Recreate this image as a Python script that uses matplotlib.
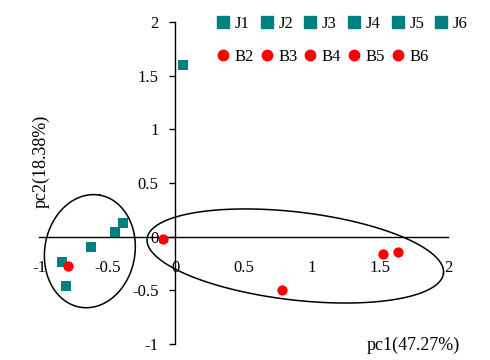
import numpy as np
import matplotlib
matplotlib.use("Agg")
import matplotlib.pyplot as plt
from matplotlib.lines import Line2D

plt.rcParams['font.family'] = ['Liberation Serif', 'DejaVu Serif']
plt.rcParams['font.size'] = 12

# PCA scores
j_labels = ["J1", "J2", "J3", "J4", "J5", "J6"]
j_pc1 = [0.055, -0.385, -0.44, -0.62, -0.83, -0.80]
j_pc2 = [1.60, 0.13, 0.04, -0.10, -0.24, -0.46]

b_labels = ["B2", "B3", "B4", "B5", "B6"]
b_pc1 = [-0.79, -0.09, 0.78, 1.52, 1.63]
b_pc2 = [-0.27, -0.02, -0.50, -0.16, -0.14]

x_ticks = [-1, -0.5, 0, 0.5, 1, 1.5, 2]
y_ticks = [-1, -0.5, 0, 0.5, 1, 1.5, 2]

# group ellipses: centre x, centre y, semi-major, semi-minor, angle (deg)
ellipses = [(-0.627, -0.135, 0.53, 0.42, 80),
            (0.88, -0.18, 1.39, 0.41, -6.7)]

teal = "#008080"
red = "#ff0000"

fig = plt.figure(figsize=(4.9, 3.6), dpi=100)
ax = fig.add_axes([39 / 490, 16 / 360, 409 / 490, 322 / 360])
ax.set_xlim(-1, 2)
ax.set_ylim(-1, 2)

ax.spines['left'].set_position(('data', 0))
ax.spines['bottom'].set_position(('data', 0))
ax.spines['top'].set_visible(False)
ax.spines['right'].set_visible(False)
for s in ['left', 'bottom']:
    ax.spines[s].set_linewidth(1.0)

ax.set_xticks(x_ticks)
ax.set_yticks(y_ticks)
ax.set_xticklabels(["-1", "-0.5", "0", "0.5", "1", "1.5", "2"])
ax.set_yticklabels(["-1", "-0.5", "0", "0.5", "1", "1.5", "2"])
ax.tick_params(axis='x', length=0, pad=17)
ax.tick_params(axis='y', direction='out', length=4, width=1, pad=8)

# x data unit drawn wider than y unit; keep ellipse shape in screen space
k = (409 / 3) / (322 / 3)
t = np.linspace(0, 2 * np.pi, 200)
for cx, cy, a, b, ang in ellipses:
    th = np.deg2rad(ang)
    u = a * np.cos(t)
    v = b * np.sin(t)
    ex = cx + (u * np.cos(th) - v * np.sin(th)) / k
    ey = cy + (u * np.sin(th) + v * np.cos(th))
    ax.plot(ex, ey, color='black', lw=1.1, zorder=1)

ax.scatter(j_pc1, j_pc2, marker='s', s=62, color=teal, zorder=3, linewidths=0)
ax.scatter(b_pc1, b_pc2, marker='o', s=55, color=red, zorder=4, linewidths=0)

handles = []
labels = []
for i in range(6):
    handles.append(Line2D([], [], marker='s', ls='', color=teal, markersize=8))
    labels.append(j_labels[i])
    if i < 5:
        handles.append(Line2D([], [], marker='o', ls='', color=red, markersize=7.5))
        labels.append(b_labels[i])
fig.legend(handles, labels, ncol=6, loc='upper left',
           bbox_to_anchor=(208 / 490, 1 - 8 / 360), frameon=False,
           handlelength=0.8, handletextpad=0.3, columnspacing=0.36,
           labelspacing=1.0, borderpad=0)

fig.text(413 / 490, 1 - 345 / 360, "pc1(47.27%)", ha='center', va='center',
         fontsize=13)
fig.text(41 / 490, 1 - 161 / 360, "pc2(18.38%)", ha='center', va='center',
         rotation=90, fontsize=13)

fig.savefig("out.png", dpi=100)
